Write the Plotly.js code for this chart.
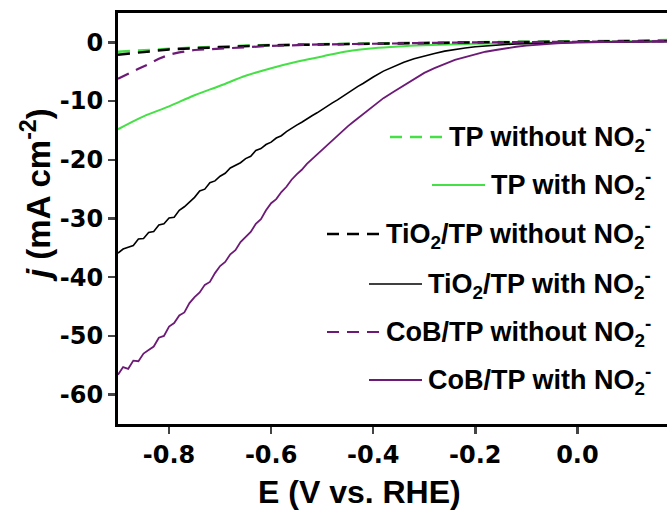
<!DOCTYPE html>
<html><head><meta charset="utf-8">
<script src="https://cdn.plot.ly/plotly-3.0.1.min.js"></script>
<style>html,body{margin:0;padding:0;background:#fff}#plot{width:667px;height:513px}</style>
</head><body><div id="plot"></div>
<script>
// ---- data ----
const E_smooth = [-0.90,-0.85,-0.80,-0.75,-0.70,-0.65,-0.60,-0.55,-0.50,-0.45,-0.40,-0.35,-0.30,-0.25,-0.20,-0.15,-0.10,-0.05,0.00,0.05,0.10,0.18];
const TP_without = [-1.6,-1.3,-1.1,-0.9,-0.7,-0.55,-0.45,-0.37,-0.3,-0.22,-0.15,-0.1,-0.05,-0.02,0.0,0.02,0.05,0.1,0.15,0.22,0.3,0.4];
const TP_with = [-14.8,-12.6,-10.9,-9.0,-7.4,-5.7,-4.4,-3.3,-2.4,-1.5,-1.0,-0.7,-0.5,-0.35,-0.25,-0.17,-0.1,-0.02,0.05,0.12,0.2,0.3];
const TiO2_without = [-2.1,-1.6,-1.2,-1.0,-0.8,-0.65,-0.5,-0.42,-0.35,-0.27,-0.2,-0.15,-0.1,-0.05,0.0,0.02,0.05,0.08,0.1,0.15,0.2,0.25];
const E_cob0 = [-0.90,-0.88,-0.86,-0.84,-0.82,-0.80,-0.78,-0.75,-0.70,-0.65,-0.60,-0.50,-0.40,-0.30,-0.20,-0.10,0.00,0.10,0.18];
const CoB_without = [-6.2,-5.3,-4.5,-3.7,-2.8,-2.1,-1.7,-1.3,-1.1,-0.85,-0.6,-0.35,-0.2,-0.1,0.0,0.05,0.1,0.15,0.2];

const E_noisy = [-0.90,-0.89,-0.88,-0.87,-0.86,-0.85,-0.84,-0.83,-0.82,-0.81,-0.80,-0.79,-0.78,-0.77,-0.76,-0.75,-0.74,-0.73,-0.72,-0.71,-0.70,-0.69,-0.68,-0.67,-0.66,-0.65,-0.64,-0.63,-0.62,-0.61,-0.60,-0.59,-0.58,-0.57,-0.56,-0.55,-0.54,-0.53,-0.52,-0.51,-0.50,-0.49,-0.48,-0.47,-0.46,-0.45,-0.44,-0.43,-0.42,-0.41,-0.40,
  -0.38,-0.36,-0.34,-0.32,-0.30,-0.28,-0.26,-0.24,-0.22,-0.20,-0.18,-0.16,-0.14,-0.12,-0.10,-0.07,-0.04,0.00,0.05,0.10,0.18];
const TiO2_with = [-35.9,-35.2,-34.9,-34.6,-33.5,-33.4,-32.4,-32.2,-31.1,-30.9,-29.9,-29.8,-28.6,-28.0,-27.2,-26.4,-25.3,-25.0,-23.9,-23.6,-22.8,-22.3,-21.4,-21.0,-20.5,-19.8,-19.4,-18.4,-18.1,-17.4,-17.0,-16.3,-15.9,-15.2,-14.6,-14.1,-13.6,-13.0,-12.5,-12.0,-11.4,-10.9,-10.3,-9.8,-9.2,-8.6,-8.1,-7.5,-7.0,-6.4,-5.9,
  -4.9,-4.1,-3.4,-2.8,-2.3,-1.9,-1.5,-1.2,-0.95,-0.75,-0.6,-0.47,-0.37,-0.28,-0.2,-0.13,-0.08,0.0,0.05,0.1,0.15];
const CoB_with = [-56.6,-55.3,-55.6,-54.2,-54.3,-53.0,-52.4,-51.8,-50.3,-50.0,-48.4,-47.8,-46.5,-46.0,-44.4,-43.4,-42.6,-41.3,-40.8,-39.3,-38.1,-37.4,-36.1,-35.4,-34.0,-33.1,-32.3,-30.9,-30.1,-28.6,-27.4,-26.7,-25.5,-24.6,-23.4,-22.5,-21.7,-20.7,-19.9,-19.0,-18.2,-17.4,-16.6,-15.8,-15.0,-14.3,-13.6,-12.9,-12.2,-11.5,-10.8,
  -9.5,-8.4,-7.3,-6.3,-5.2,-4.4,-3.7,-3.0,-2.5,-2.0,-1.6,-1.3,-1.0,-0.75,-0.55,-0.3,-0.15,0.0,0.05,0.1,0.15];

const xTickVals = [-0.8,-0.6,-0.4,-0.2,0.0];
const xTickText = ['-0.8','-0.6','-0.4','-0.2','0.0'];
const yTickVals = [0,-10,-20,-30,-40,-50,-60];
const yTickText = ['0','-10','-20','-30','-40','-50','-60'];

const names = ['TP without NO<sub>2</sub><sup>-</sup>','TP with NO<sub>2</sub><sup>-</sup>',
  'TiO<sub>2</sub>/TP without NO<sub>2</sub><sup>-</sup>','TiO<sub>2</sub>/TP with NO<sub>2</sub><sup>-</sup>',
  'CoB/TP without NO<sub>2</sub><sup>-</sup>','CoB/TP with NO<sub>2</sub><sup>-</sup>'];

const GREEN = '#45e045', PURPLE = '#6c1a76', BLACK = '#000000';
const FONT = 'Liberation Sans, Arial, sans-serif';
const TICKFONT = 'DejaVu Sans, sans-serif';
const DASH = '12px,8px';

const styles = [
  {color:GREEN,width:2.5,dash:DASH},
  {color:GREEN,width:2},
  {color:BLACK,width:2.5,dash:DASH},
  {color:BLACK,width:1.6},
  {color:PURPLE,width:2.2,dash:DASH},
  {color:PURPLE,width:1.8}
];
const xs = [E_smooth, E_smooth, E_smooth, E_noisy, E_cob0, E_noisy];
const ys = [TP_without, TP_with, TiO2_without, TiO2_with, CoB_without, CoB_with];

const traces = ys.map((y,i) => ({type:'scatter', mode:'lines', x:xs[i], y:y, name:names[i],
  line:Object.assign({}, styles[i], i===1?{shape:'spline'}:{}), hoverinfo:'skip', showlegend:false}));

// plot-area geometry (pixels)
const L = 118, T = 13, W = 549, H = 411;
const rowPx = [137, 185, 234, 284, 332, 380];
const rowY = rowPx.map(p => (T + H - p) / H);
const textRightPaper = (653 - L) / W;

const annotations = names.map((n,i) => ({text:'<b>'+n+'</b>', xref:'paper', yref:'paper', x:textRightPaper, y:rowY[i],
  xanchor:'right', yanchor:'middle', showarrow:false, font:{family:FONT, size:27, color:'#000'}}));
annotations.push({text:'<b><i>j</i> (mA cm<sup>-2</sup>)</b>', xref:'paper', yref:'paper', x:(36-L)/W, y:(T+H-195)/H,
  xanchor:'center', yanchor:'middle', textangle:-90, showarrow:false, font:{family:FONT, size:33, color:'#000'}});
annotations.push({text:'<b>E (V vs. RHE)</b>', xref:'paper', yref:'paper', x:(359-L)/W, y:(T+H-492)/H,
  xanchor:'center', yanchor:'middle', showarrow:false, font:{family:FONT, size:32, color:'#000'}});

const layout = {
  width:667, height:513,
  margin:{l:L, r:0, t:T, b:513-T-H},
  paper_bgcolor:'#fff', plot_bgcolor:'#fff',
  showlegend:false,
  xaxis:{range:[-0.9,0.1755], tickvals:xTickVals, ticktext:xTickText, ticks:'outside', ticklen:7, tickwidth:2.5,
    showline:true, linewidth:3, linecolor:'#000', mirror:true, showgrid:false, zeroline:false,
    tickfont:{family:TICKFONT, size:24, color:'#000', weight:'bold'}},
  yaxis:{range:[-65,5], tickvals:yTickVals, ticktext:yTickText, ticks:'outside', ticklen:7, tickwidth:2.5,
    showline:true, linewidth:3, linecolor:'#000', mirror:false, showgrid:false, zeroline:false,
    tickfont:{family:TICKFONT, size:24, color:'#000', weight:'bold'}},
  annotations:annotations
};
const gd = document.getElementById('plot');
Plotly.newPlot(gd, traces, layout, {displayModeBar:false, staticPlot:true}).then(() => {
  // legend line samples placed just left of each measured legend text
  const base = gd.getBoundingClientRect();
  const anns = gd.querySelectorAll('.annotation');
  const shapes = [];
  names.forEach((n,i) => {
    const el = anns[i].querySelector('.annotation-text') || anns[i];
    const r = el.getBoundingClientRect();
    const right = r.left - base.left - 6;
    const left = right - 53;
    shapes.push({type:'line', xref:'paper', yref:'paper', x0:(left-L)/W, x1:(right-L)/W, y0:rowY[i], y1:rowY[i],
      line:styles[i]});
  });
  return Plotly.relayout(gd, {shapes:shapes});
});
</script></body></html>
